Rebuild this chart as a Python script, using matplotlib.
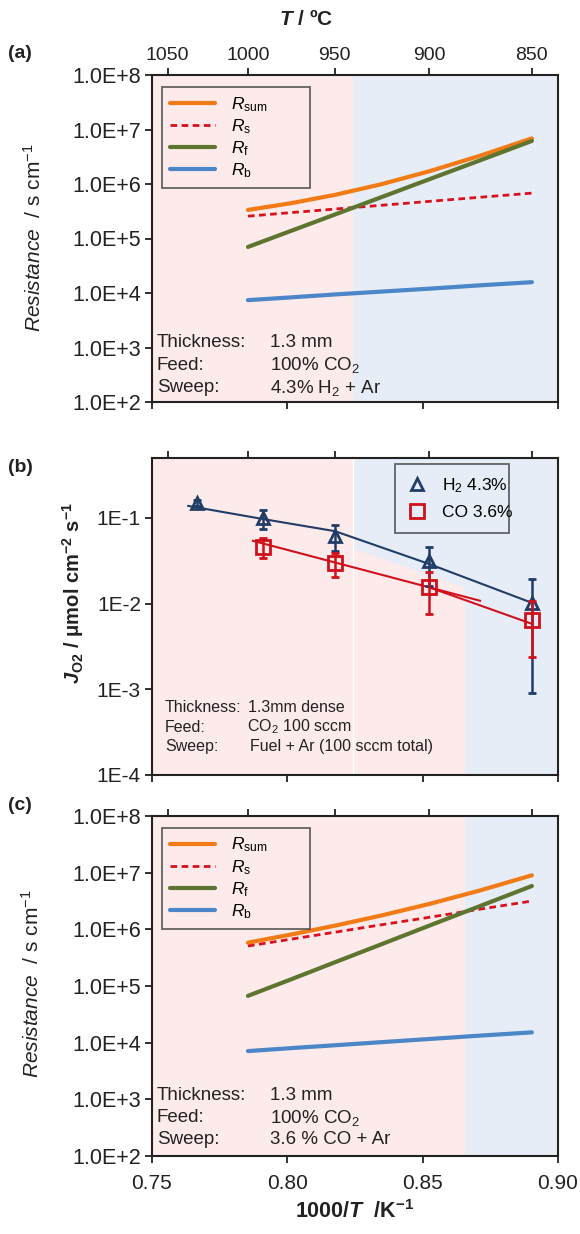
import matplotlib
matplotlib.use('Agg')
import matplotlib.pyplot as plt
import numpy as np
from matplotlib.ticker import FixedLocator, FuncFormatter, NullLocator
from matplotlib.lines import Line2D

plt.rcParams['font.family'] = ['Liberation Sans', 'DejaVu Sans']
plt.rcParams['mathtext.fontset'] = 'custom'
plt.rcParams['mathtext.rm'] = 'Liberation Sans'
plt.rcParams['mathtext.it'] = 'Liberation Sans:italic'
plt.rcParams['mathtext.bf'] = 'Liberation Sans:bold'
plt.rcParams['mathtext.bfit'] = 'Liberation Sans:bold:italic'

# ---------------- data ----------------
temps_C = [1000, 975, 950, 925, 900, 875, 850]          # model temperatures (degC)

# panel (a): 4.3% H2 + Ar sweep
a_Rsum = [3.34e5, 4.43e5, 6.31e5, 9.87e5, 1.71e6, 3.27e6, 6.87e6]
a_Rs   = [2.57e5, 2.98e5, 3.47e5, 4.06e5, 4.80e5, 5.70e5, 6.80e5]
a_Rf   = [7.0e4, 1.37e5, 2.75e5, 5.70e5, 1.22e6, 2.69e6, 6.17e6]
a_Rb   = [7.4e3, 8.3e3, 9.4e3, 1.06e4, 1.20e4, 1.38e4, 1.58e4]

# panel (c): 3.6% CO + Ar sweep
c_Rsum = [5.82e5, 8.06e5, 1.16e6, 1.75e6, 2.80e6, 4.82e6, 8.99e6]
c_Rs   = [5.08e5, 6.68e5, 8.90e5, 1.20e6, 1.63e6, 2.26e6, 3.16e6]
c_Rf   = [6.7e4, 1.30e5, 2.62e5, 5.42e5, 1.16e6, 2.55e6, 5.82e6]
c_Rb   = [7.1e3, 8.0e3, 9.0e3, 1.02e4, 1.16e4, 1.33e4, 1.52e4]

# panel (b): oxygen flux
h2_x   = [0.7665, 0.7910, 0.8176, 0.8524, 0.8904]
h2_y   = [0.150, 0.099, 0.062, 0.031, 0.0102]
h2_err = [0.012, 0.024, 0.021, 0.015, 0.0093]
h2_line_x = [0.7634, 0.7910, 0.8176, 0.8524, 0.8904]
h2_line_y = [0.138, 0.097, 0.070, 0.029, 0.0102]

co_x   = [0.7910, 0.8176, 0.8524, 0.8904]
co_y   = [0.046, 0.030, 0.0155, 0.0065]
co_err = [0.012, 0.0094, 0.008, 0.0041]
co_fit_x = [0.7873, 0.8712]
co_fit_y = [0.054, 0.0108]
co_seg_x = [0.8524, 0.8904]
co_seg_y = [0.0155, 0.0058]

top_temps = [1050, 1000, 950, 900, 850]
x_ticks = [0.75, 0.80, 0.85, 0.90]

# ---------------- style ----------------
C_SUM = '#F27B16'
C_S = '#DA101C'
C_F = '#5E7530'
C_B = '#4A86C8'
PINK = '#FDEAEA'
BLUE = '#E6EDF6'
NAVY = '#1F3D66'
RED = '#D0111B'
TXT = '#222222'

W, H = 580, 1234
fig = plt.figure(figsize=(W / 100, H / 100), dpi=100)


def px_axes(l, t, r, b):
    return fig.add_axes([l / W, 1 - b / H, (r - l) / W, (b - t) / H])


def ftext(x, y, s, **kw):
    kw.setdefault('va', 'center')
    return fig.text(x / W, 1 - y / H, s, **kw)


axA = px_axes(152, 75, 558, 402)
axB = px_axes(152, 458, 558, 775)
axC = px_axes(152, 816, 558, 1156)

inv = lambda t: 1000.0 / (t + 273.15)
xs = [inv(t) for t in temps_C]


def style_axes(ax, ylim, fmt, ylabsize, show_x_labels=False, top_labels=False):
    ax.set_xlim(0.75, 0.90)
    ax.set_yscale('log')
    ax.set_ylim(*ylim)
    ax.xaxis.set_major_locator(FixedLocator(x_ticks))
    ax.xaxis.set_minor_locator(NullLocator())
    ax.yaxis.set_minor_locator(NullLocator())
    ax.yaxis.set_major_formatter(FuncFormatter(fmt))
    ax.tick_params(axis='both', direction='out', length=5, width=1.3, colors=TXT,
                   labelcolor=TXT)
    ax.tick_params(axis='y', labelsize=ylabsize, pad=3)
    ax.tick_params(axis='x', labelsize=15, pad=8)
    if not show_x_labels:
        ax.tick_params(axis='x', labelbottom=False)
    else:
        ax.xaxis.set_major_formatter(FuncFormatter(lambda v, p: f"{v:.2f}"))
    for sp in ax.spines.values():
        sp.set_linewidth(1.5)
        sp.set_color(TXT)
    ax2 = ax.twiny()
    ax2.set_xlim(ax.get_xlim())
    ax2.set_xticks([inv(t) for t in top_temps])
    ax2.xaxis.set_minor_locator(NullLocator())
    ax2.tick_params(axis='x', direction='out', length=5, width=1.3, colors=TXT,
                    labelcolor=TXT, labelsize=14, pad=3)
    if top_labels:
        ax2.set_xticklabels([str(t) for t in top_temps])
    else:
        ax2.tick_params(axis='x', labeltop=False)
    for sp in ax2.spines.values():
        sp.set_visible(False)
    return ax2


fmtR = lambda v, p: f"1.0E+{int(round(np.log10(v)))}"
fmtJ = lambda v, p: f"1E{int(round(np.log10(v)))}"

# ---------- panel (a) ----------
style_axes(axA, (1e2, 1e8), fmtR, 15.5, top_labels=True)
axA.axvspan(0.75, 0.8243, color=PINK, zorder=0, lw=0)
axA.axvspan(0.8243, 0.90, color=BLUE, zorder=0, lw=0)

# ---------- panel (b) ----------
style_axes(axB, (1e-4, 0.5), fmtJ, 15)
axB.axvspan(0.75, 0.8657, color=PINK, zorder=0, lw=0)
axB.axvspan(0.8657, 0.90, color=BLUE, zorder=0, lw=0)
axB.fill([0.8243, 0.8657, 0.8657, 0.8243], [0.0437, 0.0154, 0.5, 0.5], color=BLUE, zorder=0, lw=0)
axB.axvline(0.8243, color='white', lw=1.0, zorder=0.5)

# ---------- panel (c) ----------
style_axes(axC, (1e2, 1e8), fmtR, 15.5, show_x_labels=True)
axC.axvspan(0.75, 0.8657, color=PINK, zorder=0, lw=0)
axC.axvspan(0.8657, 0.90, color=BLUE, zorder=0, lw=0)


def draw_R(ax, Rsum, Rs, Rf, Rb, top):
    h1, = ax.plot(xs, Rsum, color=C_SUM, lw=3.0, solid_capstyle='round', zorder=3)
    h2, = ax.plot(xs, Rs, color=C_S, lw=2.0, ls=(0, (2.4, 1.6)), zorder=3)
    h3, = ax.plot(xs, Rf, color=C_F, lw=3.0, solid_capstyle='round', zorder=3)
    h4, = ax.plot(xs, Rb, color=C_B, lw=3.0, solid_capstyle='round', zorder=3)
    labels = [r"$\mathit{R}_{\mathrm{sum}}$", r"$\mathit{R}_{\mathrm{s}}$",
              r"$\mathit{R}_{\mathrm{f}}$", r"$\mathit{R}_{\mathrm{b}}$"]
    leg = ax.legend([h1, h2, h3, h4], labels, loc='upper left',
                    bbox_to_anchor=(0.0246, top - 0.5, 0.364, 0.5), mode='expand',
                    borderaxespad=0, frameon=True, fancybox=False, fontsize=12.5,
                    handlelength=2.6, handletextpad=0.9, labelspacing=0.2,
                    borderpad=0.45)
    leg.get_frame().set_facecolor('none')
    leg.get_frame().set_edgecolor('#404040')
    leg.get_frame().set_linewidth(1.3)


draw_R(axA, a_Rsum, a_Rs, a_Rf, a_Rb, 0.963)
draw_R(axC, c_Rsum, c_Rs, c_Rf, c_Rb, 0.965)

# panel (b) data
axB.plot(h2_line_x, h2_line_y, color=NAVY, lw=1.5, zorder=3)
axB.plot(co_fit_x, co_fit_y, color=RED, lw=1.5, zorder=3)
axB.plot(co_seg_x, co_seg_y, color=RED, lw=1.5, zorder=3)
axB.errorbar(h2_x, h2_y, yerr=h2_err, fmt='^', ms=9, mfc='none', mec=NAVY, mew=2.0,
             ecolor=NAVY, elinewidth=1.8, capsize=3, capthick=1.8, zorder=4)
axB.errorbar(co_x, co_y, yerr=co_err, fmt='s', ms=10, mfc='none', mec=RED, mew=2.0,
             ecolor=RED, elinewidth=1.8, capsize=3, capthick=1.8, zorder=5)
hb1 = Line2D([], [], marker='^', ls='none', ms=9, mfc='none', mec=NAVY, mew=2.0)
hb2 = Line2D([], [], marker='s', ls='none', ms=10, mfc='none', mec=RED, mew=2.0)
legB = axB.legend([hb1, hb2], [r"H$_{\mathrm{2}}$ 4.3%", "CO 3.6%"], loc='upper left',
                  bbox_to_anchor=(0.598, 0.481, 0.281, 0.5), mode='expand',
                  borderaxespad=0, fancybox=False,
                  fontsize=12.5, handlelength=1.2, handletextpad=0.8, labelspacing=0.6,
                  borderpad=0.7)
legB.get_frame().set_facecolor('none')
legB.get_frame().set_edgecolor('#404040')
legB.get_frame().set_linewidth(1.3)

# ---------------- text ----------------
ftext(306, 19, r"$\mathbfit{T}$ / ºC", ha='center', fontsize=15, fontweight='bold', color=TXT)
ftext(8, 53, "(a)", ha='left', fontsize=14, fontweight='bold', color=TXT)
ftext(8, 467, "(b)", ha='left', fontsize=14, fontweight='bold', color=TXT)
ftext(8, 805, "(c)", ha='left', fontsize=14, fontweight='bold', color=TXT)

ylabR = r"$\mathit{Resistance}$  / s cm$^{\mathrm{-1}}$"
ftext(34, 238, ylabR, ha='center', rotation=90, fontsize=15, color=TXT)
ftext(32, 984, ylabR, ha='center', rotation=90, fontsize=15, color=TXT)
ftext(73, 593, r"$\mathbfit{J}_{\mathbf{O2}}$ / μmol cm$^{\mathbf{-2}}$ s$^{\mathbf{-1}}$",
      ha='center', rotation=90, fontsize=14.5, fontweight='bold', color=TXT)
ftext(355, 1212, r"1000/$\mathbfit{T}$  /K$^{\mathbf{-1}}$", ha='center', fontsize=15.5,
      fontweight='bold', color=TXT)

# annotations (a)
for (y, k, v) in [(343, "Thickness:", "1.3 mm"), (365, "Feed:", r"100% CO$_{\mathrm{2}}$"),
                  (388, "Sweep:", r"4.3% H$_{\mathrm{2}}$ + Ar")]:
    ftext(157, y, k, ha='left', fontsize=13.5, color=TXT)
    ftext(270, y, v, ha='left', fontsize=13.5, color=TXT)
# annotations (c)
for (y, k, v) in [(1095, "Thickness:", "1.3 mm"), (1118, "Feed:", r"100% CO$_{\mathrm{2}}$"),
                  (1140, "Sweep:", "3.6 % CO + Ar")]:
    ftext(157, y, k, ha='left', fontsize=13.5, color=TXT)
    ftext(270, y, v, ha='left', fontsize=13.5, color=TXT)
# annotations (b)
for (y, k, v, x2) in [(707, "Thickness:", "1.3mm dense", 248),
                      (727, "Feed:", r"CO$_{\mathrm{2}}$ 100 sccm", 247),
                      (747, "Sweep:", "Fuel + Ar (100 sccm total)", 250)]:
    ftext(165, y, k, ha='left', fontsize=11.5, color=TXT)
    ftext(x2, y, v, ha='left', fontsize=11.5, color=TXT)

fig.savefig('out.png', dpi=100)
